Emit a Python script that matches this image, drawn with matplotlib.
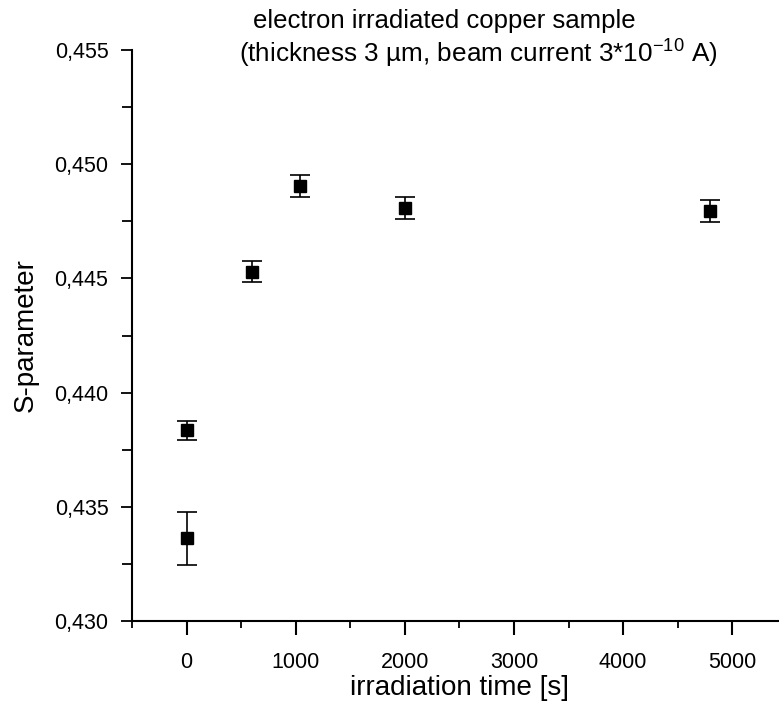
import matplotlib
matplotlib.use("Agg")
from matplotlib import pyplot as plt
from matplotlib.ticker import FuncFormatter, MultipleLocator

# irradiation time [s] and measured S-parameter with errors
time_s = [0, 0, 600, 1040, 2000, 4800]
s_param = [0.43362, 0.43836, 0.44530, 0.44905, 0.44810, 0.44796]
s_err = [0.00117, 0.00042, 0.00045, 0.00050, 0.00048, 0.00047]

title_line1 = "electron irradiated copper sample"
title_line2 = "(thickness 3 µm, beam current 3*10$^{\\mathrm{-10}}$ A)"


def comma_fmt(v, pos):
    return f"{v:.3f}".replace(".", ",")


def main():
    plt.rcParams["font.family"] = ["Liberation Sans", "DejaVu Sans"]
    plt.rcParams["mathtext.fontset"] = "custom"
    plt.rcParams["mathtext.rm"] = "Liberation Sans"
    plt.rcParams["mathtext.it"] = "Liberation Sans:italic"
    plt.rcParams["mathtext.bf"] = "Liberation Sans:bold"

    fig = plt.figure(figsize=(7.79, 7.05), dpi=100)
    ax = fig.add_axes([0.1695, 0.1191, 0.8405, 0.8099])

    ax.errorbar(time_s, s_param, yerr=s_err, fmt="s", color="black",
                markersize=8.5, elinewidth=1.2, capsize=7.5, capthick=1.2)

    ax.set_xlim(-500, 5500)
    ax.set_ylim(0.430, 0.455)
    ax.xaxis.set_major_locator(MultipleLocator(1000))
    ax.xaxis.set_minor_locator(MultipleLocator(500))
    ax.yaxis.set_major_locator(MultipleLocator(0.005))
    ax.yaxis.set_minor_locator(MultipleLocator(0.0025))
    ax.yaxis.set_major_formatter(FuncFormatter(comma_fmt))

    for side in ["top", "right"]:
        ax.spines[side].set_visible(False)
    for side in ["left", "bottom"]:
        ax.spines[side].set_linewidth(1.5)
    ax.spines["bottom"].set_clip_on(False)

    ax.tick_params(axis="x", which="major", direction="out", length=10,
                   width=1.5, labelsize=15.5, pad=12)
    ax.tick_params(axis="x", which="minor", direction="out", length=5, width=1.3)
    ax.tick_params(axis="y", which="major", direction="out", length=8,
                   width=1.3, labelsize=15.5, pad=9)
    ax.tick_params(axis="y", which="minor", direction="out", length=7, width=1.3)

    ax.set_xlabel("irradiation time [s]", fontsize=20, labelpad=2)
    ax.set_ylabel("S-parameter", fontsize=20, labelpad=11)

    fig.text(253 / 779, 1 - 28 / 705, title_line1, fontsize=18.5,
             ha="left", va="baseline")
    fig.text(239 / 779, 1 - 63 / 705, title_line2, fontsize=18.8,
             ha="left", va="baseline")

    fig.savefig("out.png", dpi=100)


if __name__ == "__main__":
    main()
